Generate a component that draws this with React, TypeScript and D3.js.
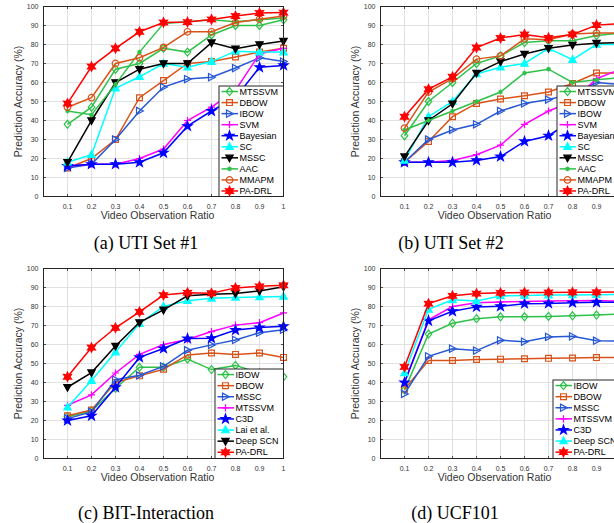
import React from "react";
import * as d3 from "d3";

// x categories and tick labels shared by all four panels
const ratios = [0.1, 0.2, 0.3, 0.4, 0.5, 0.6, 0.7, 0.8, 0.9, 1];
const xTickLabels = ["0.1", "0.2", "0.3", "0.4", "0.5", "0.6", "0.7", "0.8", "0.9", "1"];
const yTicks = [0, 10, 20, 30, 40, 50, 60, 70, 80, 90, 100];

// (a) UTI Set #1
const utiOneNames = ["MTSSVM", "DBOW", "IBOW", "SVM", "Bayesian", "SC", "MSSC", "AAC", "MMAPM", "PA-DRL"];
const utiOneMTSSVM = [38, 47, 67, 70, 78, 76, 85, 90, 90, 93];
const utiOneDBOW = [15, 20, 30, 52, 61, 70, 71, 73.4, 76, 78];
const utiOneIBOW = [15, 17, 30, 45, 57.6, 61.8, 62.8, 67.6, 73, 71];
const utiOneSVM = [16, 17, 17, 20, 25, 40, 47, 56, 75, 78];
const utiOneBayesian = [16, 17, 17, 18, 23, 37, 45, 52, 68, 69];
const utiOneSC = [18, 22, 57, 63, 70, 68, 71, 76.5, 76, 76];
const utiOneMSSC = [18, 40, 60, 67, 70, 70, 81, 77.8, 80, 81.8];
const utiOneAAC = [45, 43, 59, 76, 91, 92, 93, 92, 93, 94];
const utiOneMMAPM = [47, 52, 70, 73, 78.5, 86.7, 86.7, 91.6, 93.3, 95];
const utiOnePADRL = [49, 68.4, 78, 86.7, 91.6, 91.8, 93.2, 95, 96.6, 96.8];

// (b) UTI Set #2
const utiTwoMTSSVM = [32, 50, 60, 70, 74, 81, 82, 82, 84.7, 86];
const utiTwoDBOW = [18, 29, 42, 49, 51.3, 53, 55, 59.5, 65, 65];
const utiTwoIBOW = [18, 30, 35, 38, 45, 49, 51, 54, 60, 59];
const utiTwoSVM = [18, 18, 19, 22, 27, 38, 45, 50, 62, 67];
const utiTwoBayesian = [18, 18, 18, 19, 21, 29, 32, 40, 48, 55];
const utiTwoSC = [19, 42, 50, 64.5, 68, 70, 78, 72, 80, 80];
const utiTwoMSSC = [21, 40, 48.8, 65, 71, 75, 78, 79.7, 80.7, 81];
const utiTwoAAC = [35, 40, 45, 50, 55, 65, 67, 60, 61.4, 62.5];
const utiTwoMMAPM = [36, 55, 62, 72.3, 74, 83, 82.5, 85.5, 86, 86];
const utiTwoPADRL = [42, 56.5, 63, 78.4, 83.4, 85.3, 83.5, 85.3, 90.2, 91];

// (c) BIT-Interaction
const bitNames = ["IBOW", "DBOW", "MSSC", "MTSSVM", "C3D", "Lai et al.", "Deep SCN", "PA-DRL"];
const bitIBOW = [22, 25, 37, 48, 48, 52.4, 46.8, 49, 45, 43];
const bitDBOW = [22.5, 25.5, 40, 43.5, 47, 54.5, 55.5, 54.8, 55.5, 53.2];
const bitMSSC = [21, 24.5, 41.5, 43.8, 48.5, 57, 59.8, 62.4, 66.2, 67.8];
const bitMTSSVM = [28, 33.5, 45, 54.8, 60, 62.6, 66.8, 70.2, 71.5, 76.6];
const bitC3D = [20, 22.5, 37.5, 53.2, 57.9, 63.1, 63.3, 67.6, 68.9, 69.6];
const bitLai = [27, 41, 56, 71, 80, 83, 84.3, 84.8, 85, 85.3];
const bitDeepSCN = [37.5, 45.2, 59.2, 71.6, 78.2, 85.6, 86.5, 86.9, 88.2, 90.4];
const bitPADRL = [43, 58.4, 68.8, 77.2, 86, 87.3, 87, 89.8, 90.6, 91.2];

// (d) UCF101
const ucfNames = ["IBOW", "DBOW", "MSSC", "MTSSVM", "C3D", "Deep SCN", "PA-DRL"];
const ucfIBOW = [36, 65.5, 71.2, 73.6, 74.6, 74.6, 74.8, 75.1, 75.5, 76];
const ucfDBOW = [36.5, 51.6, 51.6, 52.1, 52.3, 52.5, 52.7, 52.9, 53.1, 53.2];
const ucfMSSC = [34, 53.8, 57.8, 56.8, 62.2, 61.5, 64, 64.3, 62, 61.8];
const ucfMTSSVM = [40, 73, 80, 82, 82.4, 82.6, 82.9, 83, 83.2, 82.7];
const ucfC3D = [40, 72.5, 77.5, 79.8, 80.1, 81.5, 81.6, 82, 82.2, 82.3];
const ucfDeepSCN = [45, 78.5, 83.5, 82.9, 85.5, 85.8, 86, 86.1, 86.2, 86.3];
const ucfPADRL = [48.2, 81.5, 85.6, 86.8, 87.2, 87.4, 87.4, 87.5, 87.5, 87.6];

const GREEN = "#2fc14a";
const ORANGE = "#d95319";
const MBLUE = "#2757d4";
const BLUE = "#0000ff";
const CYAN = "#00ffff";
const MAGENTA = "#ff00ff";
const RED = "#ff0000";
const BLACK = "#000000";

type Series = { name: string; values: number[]; color: string; marker: string };

const utiOneSeries: Series[] = [
  { name: utiOneNames[0], values: utiOneMTSSVM, color: GREEN, marker: "diamond" },
  { name: utiOneNames[1], values: utiOneDBOW, color: ORANGE, marker: "square" },
  { name: utiOneNames[2], values: utiOneIBOW, color: MBLUE, marker: "triRight" },
  { name: utiOneNames[3], values: utiOneSVM, color: MAGENTA, marker: "plus" },
  { name: utiOneNames[4], values: utiOneBayesian, color: BLUE, marker: "star5" },
  { name: utiOneNames[5], values: utiOneSC, color: CYAN, marker: "triUp" },
  { name: utiOneNames[6], values: utiOneMSSC, color: BLACK, marker: "triDown" },
  { name: utiOneNames[7], values: utiOneAAC, color: GREEN, marker: "asterisk" },
  { name: utiOneNames[8], values: utiOneMMAPM, color: ORANGE, marker: "circle" },
  { name: utiOneNames[9], values: utiOnePADRL, color: RED, marker: "star6" },
];

const utiTwoValues = [utiTwoMTSSVM, utiTwoDBOW, utiTwoIBOW, utiTwoSVM, utiTwoBayesian, utiTwoSC, utiTwoMSSC, utiTwoAAC, utiTwoMMAPM, utiTwoPADRL];
const utiTwoSeries: Series[] = utiOneSeries.map((s, i) => ({ ...s, values: utiTwoValues[i] }));

const bitSeries: Series[] = [
  { name: bitNames[0], values: bitIBOW, color: GREEN, marker: "diamond" },
  { name: bitNames[1], values: bitDBOW, color: ORANGE, marker: "square" },
  { name: bitNames[2], values: bitMSSC, color: MBLUE, marker: "triRight" },
  { name: bitNames[3], values: bitMTSSVM, color: MAGENTA, marker: "plus" },
  { name: bitNames[4], values: bitC3D, color: BLUE, marker: "star5" },
  { name: bitNames[5], values: bitLai, color: CYAN, marker: "triUp" },
  { name: bitNames[6], values: bitDeepSCN, color: BLACK, marker: "triDown" },
  { name: bitNames[7], values: bitPADRL, color: RED, marker: "star6" },
];

const ucfSeries: Series[] = [
  { name: ucfNames[0], values: ucfIBOW, color: GREEN, marker: "diamond" },
  { name: ucfNames[1], values: ucfDBOW, color: ORANGE, marker: "square" },
  { name: ucfNames[2], values: ucfMSSC, color: MBLUE, marker: "triRight" },
  { name: ucfNames[3], values: ucfMTSSVM, color: MAGENTA, marker: "plus" },
  { name: ucfNames[4], values: ucfC3D, color: BLUE, marker: "star5" },
  { name: ucfNames[5], values: ucfDeepSCN, color: CYAN, marker: "triUp" },
  { name: ucfNames[6], values: ucfPADRL, color: RED, marker: "star6" },
];

function starPath(points: number, outer: number, inner: number) {
  const pts: [number, number][] = [];
  for (let i = 0; i < points * 2; i++) {
    const r = i % 2 === 0 ? outer : inner;
    const a = (Math.PI * i) / points - Math.PI / 2;
    pts.push([r * Math.cos(a), r * Math.sin(a)]);
  }
  return "M" + pts.map((p) => p.join(",")).join("L") + "Z";
}

const markerPaths: Record<string, string> = {
  diamond: "M0,-4L3.3,0L0,4L-3.3,0Z",
  square: "M-2.9,-2.9H2.9V2.9H-2.9Z",
  triRight: "M-3,-3.6L3.8,0L-3,3.6Z",
  triUp: "M0,-4L3.7,2.7L-3.7,2.7Z",
  triDown: "M0,4L3.7,-2.7L-3.7,-2.7Z",
  plus: "M-3.6,0H3.6M0,-3.6V3.6",
  asterisk: "M-2.4,0H2.4M0,-2.4V2.4M-1.7,-1.7L1.7,1.7M1.7,-1.7L-1.7,1.7",
  circle: d3.symbol(d3.symbolCircle, 34)() as string,
  star5: starPath(5, 4.8, 1.9),
  star6: starPath(6, 4.6, 2.4),
};
const filledMarkers = new Set(["star5", "star6", "triUp", "triDown"]);

const Marker = ({ kind, color, x, y }: { kind: string; color: string; x: number; y: number }) => (
  <path
    d={markerPaths[kind]}
    transform={`translate(${x},${y})`}
    fill={filledMarkers.has(kind) ? color : "none"}
    stroke={color}
    strokeWidth={1.2}
    strokeLinejoin="miter"
  />
);

type PanelProps = {
  series: Series[];
  left: number;
  top: number;
  bottom: number;
  legendLeft: number;
  legendTop: number;
  legendRow: number;
  legendWidth: number;
  caption: string;
  captionX: number;
  captionY: number;
};

const Panel = ({ series, left, top, bottom, legendLeft, legendTop, legendRow, legendWidth, caption, captionX, captionY }: PanelProps) => {
  const width = 240;
  const x = d3.scaleLinear().domain([0, 1]).range([left, left + width]);
  const y = d3.scaleLinear().domain([0, 100]).range([bottom, top]);
  const line = d3
    .line<number>()
    .x((_, i) => x(ratios[i]))
    .y((d) => y(d));
  const legendBottom = bottom;
  const labelFont = "'Liberation Sans', Arial, sans-serif";

  return (
    <g>
      <rect x={left} y={top} width={width} height={bottom - top} fill="#fff" />
      {/* grid */}
      {ratios.map((r) => (
        <line key={"gx" + r} x1={x(r)} x2={x(r)} y1={top} y2={bottom} stroke="#dedede" strokeWidth={0.9} />
      ))}
      {yTicks.slice(1, -1).map((t) => (
        <line key={"gy" + t} x1={left} x2={left + width} y1={y(t)} y2={y(t)} stroke="#dedede" strokeWidth={0.9} />
      ))}
      {/* ticks */}
      {ratios.map((r) => (
        <g key={"tx" + r} stroke="#262626" strokeWidth={0.8}>
          <line x1={x(r)} x2={x(r)} y1={bottom} y2={bottom - 2.5} />
          <line x1={x(r)} x2={x(r)} y1={top} y2={top + 2.5} />
        </g>
      ))}
      {yTicks.map((t) => (
        <g key={"ty" + t} stroke="#262626" strokeWidth={0.8}>
          <line x1={left} x2={left + 2.5} y1={y(t)} y2={y(t)} />
          <line x1={left + width} x2={left + width - 2.5} y1={y(t)} y2={y(t)} />
        </g>
      ))}
      {/* series */}
      {series.map((s) => (
        <g key={s.name}>
          <path d={line(s.values) as string} fill="none" stroke={s.color} strokeWidth={1.5} />
          {s.values.map((v, i) => (
            <Marker key={i} kind={s.marker} color={s.color} x={x(ratios[i])} y={y(v)} />
          ))}
        </g>
      ))}
      <rect x={left} y={top} width={width} height={bottom - top} fill="none" stroke="#262626" strokeWidth={1} />
      {/* tick labels */}
      {ratios.map((r, i) => (
        <text key={"lx" + r} x={x(r)} y={bottom + 9.5} fontSize={7} fontFamily={labelFont} fill="#333" textAnchor="middle" dominantBaseline="central">
          {xTickLabels[i]}
        </text>
      ))}
      {yTicks.map((t) => (
        <text key={"ly" + t} x={left - 5} y={y(t)} fontSize={7} fontFamily={labelFont} fill="#333" textAnchor="end" dominantBaseline="central">
          {t}
        </text>
      ))}
      <text x={left + 114} y={bottom + 22} fontSize={10.5} fontFamily={labelFont} fill="#333" textAnchor="middle">
        Video Observation Ratio
      </text>
      <text
        transform={`translate(${left - 22},${(top + bottom) / 2}) rotate(-90)`}
        fontSize={10.5}
        fontFamily={labelFont}
        fill="#333"
        textAnchor="middle"
      >
        Prediction Accuracy (%)
      </text>
      {/* legend */}
      <rect x={legendLeft} y={legendTop} width={legendWidth} height={legendBottom - legendTop} fill="#fff" stroke="#262626" strokeWidth={1} />
      {series.map((s, i) => {
        const ly = legendTop + legendRow * (i + 0.5);
        return (
          <g key={"lg" + s.name}>
            <line x1={legendLeft + 2.5} x2={legendLeft + 19} y1={ly} y2={ly} stroke={s.color} strokeWidth={1.5} />
            <Marker kind={s.marker} color={s.color} x={legendLeft + 10.5} y={ly} />
            <text x={legendLeft + 20.5} y={ly} fontSize={9} fontFamily={labelFont} fill="#000" dominantBaseline="central">
              {s.name}
            </text>
          </g>
        );
      })}
      <text x={captionX} y={captionY} fontSize={18} fontFamily="'Liberation Serif', 'Times New Roman', serif" fill="#000" textAnchor="middle">
        {caption}
      </text>
    </g>
  );
};

export default function App() {
  return (
    <svg width={614} height={523} style={{ position: "absolute", left: 0, top: 0, display: "block", background: "#fff" }}>
      <rect width={614} height={523} fill="#fff" />
      <Panel series={utiOneSeries} left={43.5} top={6.5} bottom={196.5} legendLeft={219} legendTop={86} legendRow={11.05} legendWidth={64.5} caption="(a) UTI Set #1" captionX={146} captionY={249} />
      <Panel series={utiTwoSeries} left={380.5} top={6.5} bottom={196.5} legendLeft={557} legendTop={86} legendRow={11.05} legendWidth={80} caption="(b) UTI Set #2" captionX={451} captionY={249} />
      <Panel series={bitSeries} left={43.5} top={268.5} bottom={458.5} legendLeft={215} legendTop={369} legendRow={11.1} legendWidth={68.5} caption="(c) BIT-Interaction" captionX={146} captionY={519} />
      <Panel series={ucfSeries} left={380.5} top={268.5} bottom={458.5} legendLeft={553} legendTop={380} legendRow={11.1} legendWidth={80} caption="(d) UCF101" captionX={455} captionY={519} />
    </svg>
  );
}
